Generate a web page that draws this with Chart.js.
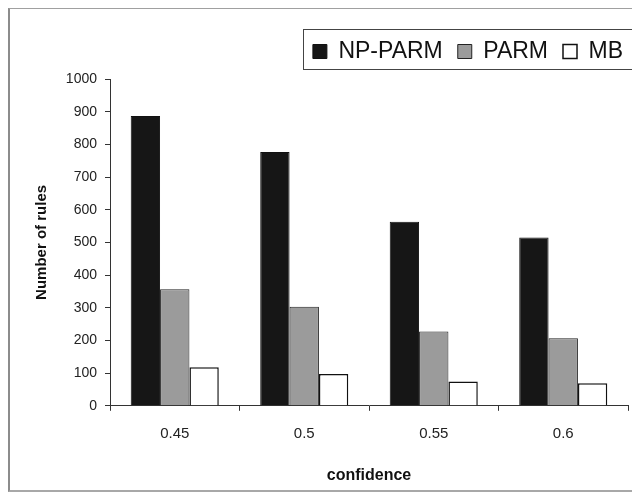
<!DOCTYPE html>
<html>
<head>
<meta charset="utf-8">
<title>Number of rules by confidence</title>
<script src="https://cdn.jsdelivr.net/npm/chart.js@4.4.1/dist/chart.umd.min.js"></script>
<style>
  html, body { margin: 0; padding: 0; background: #fff; overflow: hidden; }
  #wrap { position: relative; width: 632px; height: 495px; }
  /* outer chart frame, open on the right */
  #frame {
    position: absolute; left: 8px; top: 8px; width: 640px; height: 481px;
    border-left: 2px solid #8c8c8c; border-top: 1px solid #a0a0a0; border-bottom: 2px solid #a8a8a8;
  }
  #plot { position: absolute; left: 0; top: 0; }
</style>
</head>
<body>
<div id="wrap">
  <div id="frame"></div>
  <canvas id="plot" width="632" height="495"></canvas>
</div>
<script>
const confidence = ['0.45', '0.5', '0.55', '0.6'];
const npParm = [887, 777, 563, 515];
const parm = [357, 303, 227, 207];
const mb = [118, 97, 74, 69];

const FONT = "'Liberation Sans', Arial, sans-serif";

// legend: extra room below it, nudged right, with a box drawn around it
const legendBox = {
    id: 'legendBox',
    beforeLayout(chart) {
        const lg = chart.legend;
        if (!lg._extraSpace) {
            const fit = lg.fit.bind(lg);
            lg.fit = () => { fit(); lg.height += 6; };
            lg._extraSpace = true;
        }
    },
    afterLayout(chart) {
        chart.legend.left += 10;
        chart.legend.right += 10;
    },
    afterDraw(chart) {
        const lg = chart.legend;
        const ctx = chart.ctx;
        const x = Math.round(lg.right - lg.lineWidths[0] - 10) + 0.5;
        ctx.save();
        ctx.strokeStyle = '#444';
        ctx.lineWidth = 1;
        ctx.strokeRect(x, Math.round(lg.top + 4) + 0.5, 700, 40);
        ctx.restore();
    }
};

const ctx = document.getElementById('plot').getContext('2d');
new Chart(ctx, {
    type: 'bar',
    data: {
        labels: confidence,
        datasets: [
            {
                label: 'NP-PARM',
                data: npParm,
                backgroundColor: '#161616',
                borderColor: '#111',
                borderWidth: 1,
            },
            {
                label: 'PARM',
                data: parm,
                backgroundColor: '#9b9b9b',
                borderColor: '#222',
                borderWidth: 1,
            },
            {
                label: 'MB',
                data: mb,
                backgroundColor: '#ffffff',
                borderColor: '#111',
                borderWidth: 1.5,
            }
        ]
    },
    options: {
        responsive: false,
        animation: false,
        categoryPercentage: 0.68,
        barPercentage: 1,
        layout: {
            padding: { top: 25, left: 24, right: 4, bottom: 6 }
        },
        scales: {
            x: {
                grid: {
                    offset: true,
                    drawOnChartArea: false,
                    tickLength: 5,
                    color: '#333'
                },
                border: { color: '#333' },
                ticks: {
                    padding: 14,
                    color: '#222',
                    font: { family: FONT, size: 15 }
                },
                title: {
                    display: true,
                    text: 'confidence',
                    color: '#111',
                    padding: { top: 9, bottom: 4 },
                    font: { family: FONT, size: 16, weight: 'bold' }
                }
            },
            y: {
                min: 0,
                max: 1000,
                afterFit(scale) {
                    scale.width = 86;
                },
                grid: {
                    drawOnChartArea: false,
                    tickLength: 5,
                    color: '#333'
                },
                border: { color: '#333' },
                ticks: {
                    stepSize: 100,
                    padding: 8,
                    color: '#222',
                    font: { family: FONT, size: 14 },
                    callback: (value) => String(value)
                },
                title: {
                    display: true,
                    text: 'Number of rules',
                    color: '#111',
                    padding: { top: 9, bottom: 4 },
                    font: { family: FONT, size: 15, weight: 'bold' }
                }
            }
        },
        plugins: {
            legend: {
                display: true,
                position: 'top',
                align: 'end',
                labels: {
                    boxWidth: 14,
                    boxHeight: 14,
                    padding: 15,
                    color: '#111',
                    font: { family: FONT, size: 23 }
                }
            },
            tooltip: { enabled: false }
        }
    },
    plugins: [legendBox]
});
</script>
</body>
</html>
